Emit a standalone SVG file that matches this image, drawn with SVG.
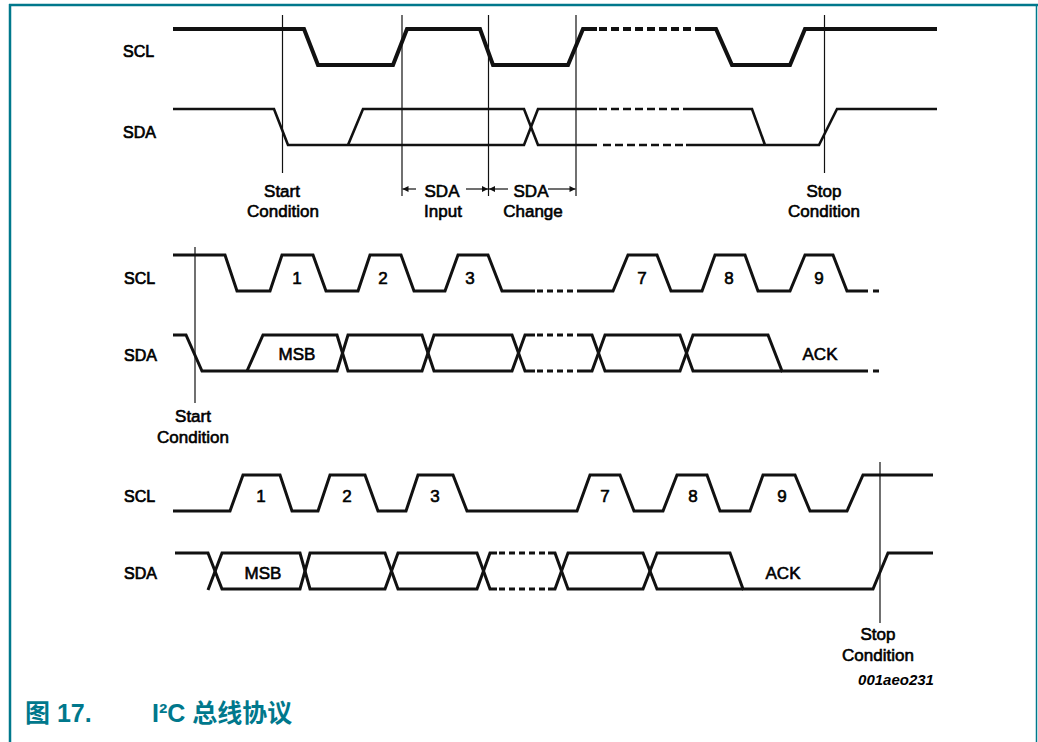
<svg xmlns="http://www.w3.org/2000/svg" width="1038" height="742" viewBox="0 0 1038 742">
<defs>
<style>
.sig{fill:none;stroke:#111;stroke-width:3;stroke-linejoin:miter}
.thick{stroke-width:4}
.thin2{stroke-width:2.6}
.dash{stroke-dasharray:8 4}
.dot{stroke-dasharray:6 4}
.vl{fill:none;stroke:#111;stroke-width:1.2}
.arr{fill:none;stroke:#111;stroke-width:1.2}
.lbl{font-family:"Liberation Sans",Arial,sans-serif;font-size:17px;fill:#000;stroke:#000;stroke-width:0.6;text-anchor:middle}
.sn{font-family:"Liberation Sans",Arial,sans-serif;font-size:16px;fill:#000;stroke:#000;stroke-width:0.7}
.cap{font-family:"Liberation Sans","Noto Sans CJK SC",sans-serif;font-size:25px;font-weight:bold;fill:#00788c}
.border{stroke:#00788c;fill:none}
</style>
<marker id="ah" viewBox="0 0 10 10" refX="10" refY="5" markerWidth="8" markerHeight="6" orient="auto" markerUnits="userSpaceOnUse"><path d="M0,0 L10,5 L0,10 z" fill="#111"/></marker>
</defs>
<rect width="1038" height="742" fill="#fff"/>
<g id="frame">
<line class="border" x1="9" y1="5" x2="1038" y2="5" stroke-width="2.5"/>
<line class="border" x1="10" y1="4" x2="10" y2="742" stroke-width="2.5"/>
<line class="border" x1="1036.5" y1="5" x2="1036.5" y2="742" stroke-width="1.5"/>
</g>

<!-- TOP SECTION -->
<g id="top-scl">
<text class="sn" x="123" y="57">SCL</text>
<path class="sig thick" d="M173,29 H304 L318,65 H393 L407,29 H480 L493,65 H568 L583,29 H597"/>
<path class="sig thick dash" d="M599,29 H697"/>
<path class="sig thick" d="M697,29 H716 L732,65 H790 L805,29 H937"/>
</g>
<g id="top-sda">
<text class="sn" x="123" y="138">SDA</text>
<path class="sig thin2" d="M173,109 H274 L288,145 H524 L538,109 H597"/>
<path class="sig thin2" d="M348,145 L363,109 H524 L538,145 H597"/>
<path class="sig thin2 dash" d="M599,109 H690 M603,145 H685"/>
<path class="sig thin2" d="M690,109 H752 L765,145 M686,145 H819 L837,109 H937"/>
</g>
<g id="top-labels">
<text class="lbl" x="282" y="197">Start</text>
<text class="lbl" x="283" y="217">Condition</text>
<text class="lbl" x="442" y="197">SDA</text>
<text class="lbl" x="443" y="217">Input</text>
<text class="lbl" x="531" y="197">SDA</text>
<text class="lbl" x="533" y="217">Change</text>
<text class="lbl" x="824" y="197">Stop</text>
<text class="lbl" x="824" y="217">Condition</text>
</g>

<!-- MIDDLE SECTION -->
<g id="mid-scl">
<text class="sn" x="124" y="284">SCL</text>
<path class="sig" d="M173,255 H225 L237,291 H270 L282,255 H313 L326,291 H358 L370,255 H401 L414,291 H445 L458,255 H488 L502,291 H535"/>
<path class="sig dot" d="M537,291 H578"/>
<path class="sig" d="M578,291 H613 L628,255 H657 L671,291 H702 L715,255 H745 L758,291 H790 L805,255 H833 L847,291 H868 M873,291 H879"/>
<text class="lbl" x="297" y="284">1</text>
<text class="lbl" x="383" y="284">2</text>
<text class="lbl" x="470" y="284">3</text>
<text class="lbl" x="642" y="284">7</text>
<text class="lbl" x="729" y="284">8</text>
<text class="lbl" x="819" y="284">9</text>
</g>
<g id="mid-sda">
<text class="sn" x="124" y="361">SDA</text>
<path class="sig" d="M173,335 H186 L202,371 H337 L348,335 H422 L434,371 H512 L525,335 H535"/>
<path class="sig" d="M247,371 L263,335 H337 L348,371 H422 L434,335 H512 L525,371 H535"/>
<path class="sig dot" d="M537,335 H578 M537,371 H578"/>
<path class="sig" d="M578,335 H592 L605,371 H680 L693,335 H768 L782,371 H868 M873,371 H879"/>
<path class="sig" d="M578,371 H592 L605,335 H680 L693,371 H782"/>
<text class="lbl" x="297" y="360">MSB</text>
<text class="lbl" x="820" y="360">ACK</text>
</g>
<g id="mid-labels">
<text class="lbl" x="193" y="422">Start</text>
<text class="lbl" x="193" y="443">Condition</text>
</g>

<!-- BOTTOM SECTION -->
<g id="bot-scl">
<text class="sn" x="124" y="502">SCL</text>
<path class="sig" d="M173,511 H230 L243,475 H280 L292,511 H318 L330,475 H365 L378,511 H406 L418,475 H453 L467,511 H577 L590,475 H620 L634,511 H663 L677,475 H707 L720,511 H750 L763,475 H795 L810,511 H847 L863,475 H933"/>
<text class="lbl" x="261" y="502">1</text>
<text class="lbl" x="347" y="502">2</text>
<text class="lbl" x="435" y="502">3</text>
<text class="lbl" x="605" y="502">7</text>
<text class="lbl" x="693" y="502">8</text>
<text class="lbl" x="782" y="502">9</text>
</g>
<g id="bot-sda">
<text class="sn" x="124" y="579">SDA</text>
<path class="sig" d="M175,553 H208 L222,589 H300 L310,553 H385 L398,589 H477 L490,553 H497"/>
<path class="sig" d="M208,590 L222,553 H300 L310,589 H385 L398,553 H477 L490,589 H497"/>
<path class="sig dot" d="M499,553 H548 M499,589 H548"/>
<path class="sig" d="M548,553 H555 L568,589 H643 L657,553 H730 L743,589 H873 L888,553 H933"/>
<path class="sig" d="M548,589 H555 L568,553 H643 L657,589 H743"/>
<text class="lbl" x="263" y="579">MSB</text>
<text class="lbl" x="783" y="579">ACK</text>
</g>
<g id="bot-labels">
<text class="lbl" x="878" y="640">Stop</text>
<text class="lbl" x="878" y="661">Condition</text>
<text x="896" y="685" style="font-family:'Liberation Sans',Arial,sans-serif;font-size:15px;font-style:italic;font-weight:bold;text-anchor:middle;fill:#000">001aeo231</text>
</g>

<g id="connectors">
<line class="vl" x1="282.5" y1="15" x2="282.5" y2="173"/>
<line class="vl" x1="402" y1="15" x2="402" y2="196"/>
<line class="vl" x1="488.5" y1="15" x2="488.5" y2="196"/>
<line class="vl" x1="576" y1="15" x2="576" y2="196"/>
<line class="vl" x1="824.5" y1="15" x2="824.5" y2="173"/>
<line class="arr" x1="416" y1="189" x2="402.5" y2="189" marker-end="url(#ah)"/>
<line class="arr" x1="466" y1="189" x2="488" y2="189" marker-end="url(#ah)"/>
<line class="arr" x1="508" y1="189" x2="489" y2="189" marker-end="url(#ah)"/>
<line class="arr" x1="548" y1="189" x2="575.5" y2="189" marker-end="url(#ah)"/>
<line class="vl" x1="195" y1="247" x2="195" y2="403"/>
<line class="vl" x1="880" y1="462" x2="880" y2="623"/>
</g>

<g id="caption">
<text class="cap" x="25" y="722">图 17.</text>
<text class="cap" x="152" y="722">I²C 总线协议</text>
</g>
</svg>
